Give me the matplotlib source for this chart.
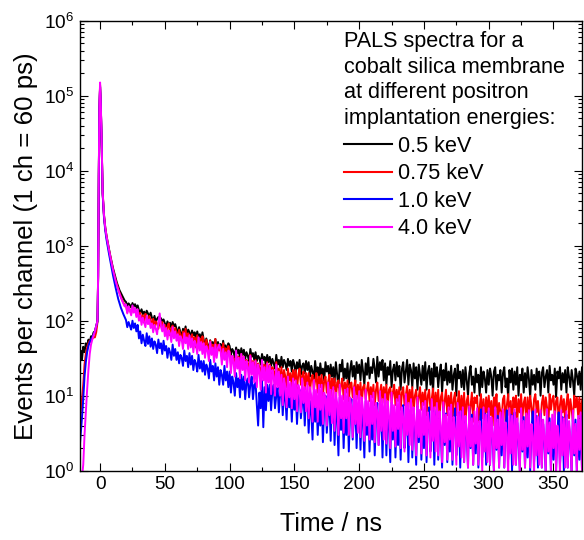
import numpy as np
import matplotlib
matplotlib.use("Agg")
import matplotlib.pyplot as plt
from matplotlib.ticker import MultipleLocator, LogLocator, NullFormatter

plt.rcParams['font.family'] = ['Liberation Sans', 'DejaVu Sans']
plt.rcParams['mathtext.fontset'] = 'custom'
plt.rcParams['mathtext.rm'] = 'Liberation Sans'
plt.rcParams['mathtext.it'] = 'Liberation Sans'

# time axis (ns): fine steps around the prompt peak, then 1 ns from 20 ns on
t_head = [-16, -15, -14, -13, -12, -11, -10, -9, -8, -7, -6, -5, -4, -3, -2, -1.5,
          -1, -0.5, 0, 0.5, 1, 1.5, 2, 3, 4, 5, 6, 7, 8, 9, 10, 11, 12, 13, 14, 15,
          16, 17, 18, 19]
t_tail = np.arange(20, 380)
time = np.concatenate([t_head, t_tail])

labels = ['0.5 keV', '0.75 keV', '1.0 keV', '4.0 keV']
colors = ['#000000', '#ff0000', '#0000ff', '#ff00ff']

# counts per channel
# 0.5 keV
e05_head = [22, 40, 30, 45, 38, 50, 46, 56, 52, 62, 60, 70, 72, 85, 100, 400,
            9000, 70000, 130000, 80000, 35000, 13000, 5000, 2600, 1750, 1350, 1080, 880, 720, 600,
            500, 430, 370, 320, 285, 255, 235, 215, 200, 185]
e05_tail = [178, 158, 170, 162, 150, 172, 156, 166, 148, 160,
            138, 128, 142, 122, 132, 118, 136, 124, 114, 128,
            110, 100, 116, 96, 106, 112, 94, 108, 98, 104,
            92, 82, 98, 86, 94, 80, 96, 84, 90, 78,
            66, 82, 70, 62, 78, 68, 84, 60, 76, 70,
            60, 74, 64, 70, 55, 72, 60, 66, 54, 70,
            56, 44, 58, 48, 40, 55, 46, 52, 42, 57,
            40, 52, 44, 49, 37, 54, 41, 47, 36, 50,
            46, 35, 42, 39, 32, 44, 37, 41, 31, 43,
            35, 41, 31, 38, 34, 29, 42, 33, 37, 30,
            38, 29, 34, 32, 26, 36, 30, 33, 25, 35,
            28, 33, 25, 31, 27, 23, 35, 26, 30, 24,
            33, 24, 30, 27, 22, 31, 25, 29, 21, 30,
            26, 20, 28, 23, 30, 19, 25, 27, 20, 29,
            22, 28, 18, 25, 21, 17, 29, 20, 24, 16,
            27, 19, 23, 16, 28, 21, 25, 17, 26, 18,
            24, 15, 28, 19, 13, 26, 21, 30, 16, 23,
            17, 27, 14, 22, 29, 18, 25, 15, 28, 20,
            26, 16, 30, 21, 14, 27, 19, 32, 17, 24,
            20, 31, 23, 15, 33, 18, 28, 22, 30, 16,
            27, 14, 24, 19, 29, 13, 22, 26, 16, 28,
            18, 25, 12, 23, 28, 15, 21, 30, 14, 26,
            22, 13, 27, 17, 24, 12, 26, 19, 14, 25,
            16, 28, 12, 21, 25, 14, 23, 11, 27, 18,
            24, 13, 20, 26, 11, 22, 16, 27, 14, 21,
            15, 25, 12, 19, 23, 10, 26, 17, 21, 13,
            22, 12, 24, 16, 10, 20, 25, 14, 18, 11,
            23, 15, 19, 10, 24, 13, 21, 17, 11, 22,
            14, 23, 18, 10, 21, 24, 12, 19, 16, 22,
            11, 20, 24, 13, 17, 9.5, 22, 15, 23, 12,
            21, 14, 24, 10, 19, 16, 23, 11, 20, 13,
            24, 17, 9.5, 22, 14, 19, 12, 23, 15, 21,
            10, 20, 24, 13, 18, 22, 11, 25, 16, 19,
            14, 23, 9.5, 21, 17, 24, 12, 20, 15, 22,
            11, 24, 18, 13, 22, 16, 10, 23, 19, 14,
            21, 12, 24, 17, 9.5, 22, 15, 20, 13, 23]

# 0.75 keV
e075_head = [4, 6, 9, 14, 26, 36, 44, 50, 54, 56, 58, 60, 60, 70, 95, 380,
             8500, 70000, 140000, 80000, 35000, 13000, 5000, 2500, 1700, 1300, 1040, 850, 690, 570,
             470, 400, 345, 300, 265, 235, 210, 190, 175, 160]
e075_tail = [160, 130, 152, 138, 124, 155, 132, 146, 120, 140,
             108, 128, 100, 118, 94, 124, 110, 92, 116, 102,
             88, 106, 82, 98, 92, 78, 104, 84, 96, 76,
             88, 68, 84, 92, 64, 78, 86, 62, 80, 70,
             58, 76, 64, 54, 72, 60, 78, 52, 68, 62,
             48, 66, 54, 60, 44, 64, 50, 58, 42, 62,
             52, 40, 56, 46, 37, 54, 44, 48, 38, 57,
             35, 48, 40, 45, 33, 50, 37, 43, 31, 46,
             38, 27, 34, 31, 25, 37, 29, 33, 24, 36,
             26, 33, 23, 30, 27, 22, 35, 24, 29, 22,
             30, 20, 27, 24, 18, 29, 22, 26, 17, 28,
             19, 26, 17, 24, 21, 16, 28, 18, 23, 16,
             24, 14, 22, 18, 13, 23, 16, 20, 13, 22,
             16, 22, 12, 19, 23, 14, 18, 21, 12, 20,
             14, 20, 11, 17, 19, 12, 16, 20, 11, 18,
             13, 19, 10, 16, 18, 11, 15, 19, 10, 17,
             12, 17, 9, 15, 16, 10, 14, 17, 9, 15,
             11, 16, 8.5, 14, 15, 9.5, 13, 16, 9, 14,
             10, 15, 8, 13, 14, 9, 12, 15, 8.5, 13,
             9.5, 14, 7.5, 12, 15, 8.5, 11, 14, 8, 13,
             9, 14, 7, 12, 13, 8, 11, 14, 7.5, 12,
             8.5, 13, 6.5, 11, 13, 7.5, 10, 13.5, 7, 12,
             8, 13, 6, 10, 12, 7, 9.5, 13, 6.5, 11,
             7.5, 12, 5.5, 10, 12, 6.5, 9, 12.5, 6, 11,
             7, 12, 5, 9.5, 11, 6, 8.5, 12, 5.5, 10,
             6.5, 11, 4.5, 9, 11, 5.5, 8, 11.5, 5, 10,
             6, 11, 4, 8.5, 10, 5, 7.5, 11, 4.5, 9.5,
             8, 10, 4.5, 7, 10.5, 5, 9, 4, 9.5, 6,
             10, 5.5, 8.5, 4, 9.5, 7, 10.5, 4.5, 8, 6,
             5, 9, 10, 4.5, 7.5, 10.5, 5.5, 8.5, 4, 9.5,
             7, 10, 4.5, 9, 6, 10.5, 5, 8, 9.5, 4,
             9.5, 5.5, 10, 7, 4.5, 9, 10.5, 6, 8.5, 5,
             4.5, 8, 10, 5.5, 9.5, 7, 4, 10.5, 6.5, 9,
             10, 5, 8.5, 9.5, 4.5, 7.5, 10, 6, 9, 4.5,
             8, 10.5, 5, 9, 6.5, 4.5, 10, 7, 9.5, 5.5,
             9.5, 4.5, 8.5, 10, 6, 9, 5, 10.5, 7, 4.5]

# 1.0 keV
e10_head = [1.8, 3, 5, 9, 18, 28, 38, 46, 52, 56, 60, 66, 72, 84, 98, 380,
            8500, 70000, 135000, 80000, 35000, 12000, 4800, 2400, 1600, 1200, 950, 760, 610, 490,
            400, 330, 275, 230, 195, 170, 150, 135, 122, 112]
e10_tail = [102, 82, 96, 86, 76, 100, 80, 92, 72, 88,
            58, 72, 50, 65, 54, 46, 68, 49, 62, 45,
            58, 42, 53, 48, 37, 56, 43, 50, 36, 54,
            40, 46, 32, 43, 38, 30, 48, 34, 42, 30,
            38, 27, 35, 32, 25, 40, 29, 34, 24, 37,
            26, 34, 22, 30, 27, 21, 35, 23, 29, 21,
            29, 19, 26, 23, 17, 30, 21, 25, 16, 27,
            18, 24, 14, 22, 19, 14, 25, 16, 21, 13,
            21, 11, 18, 15, 10, 20, 13, 17, 9.5, 19,
            12, 18, 9, 15, 17, 9.5, 14, 18, 9, 14,
            15, 7.5, 4, 11, 6.8, 16, 3.8, 13, 6.4, 14,
            8.5, 14, 6.4, 12, 14, 6.8, 10, 13, 6, 11,
            13, 5.5, 12, 9, 4.8, 14, 7, 11, 4.5, 12,
            6.5, 11, 4.2, 9.5, 12, 5, 8, 11, 4, 10,
            10, 3.2, 8.5, 6, 2.6, 11, 4.5, 9, 3, 7.5,
            4, 9.5, 2.4, 7, 10, 3.2, 6, 9, 2.5, 8,
            9, 2.2, 7.5, 5, 1.6, 9.5, 3.5, 8, 2, 6.5,
            3, 8.5, 1.8, 6, 9, 2.6, 5, 8, 2, 7,
            8, 1.9, 6.5, 4.5, 1.5, 8.5, 3, 7, 1.8, 5.5,
            2.6, 7.5, 1.6, 5, 8, 2.2, 4.2, 7, 1.5, 6,
            7.5, 1.6, 6, 4, 1.3, 8, 2.6, 6.5, 1.5, 5,
            2.2, 7, 1.4, 4.8, 7.5, 2, 3.8, 6.5, 1.3, 5.5,
            7, 1.5, 5.5, 3.6, 1.2, 7.2, 2.4, 6, 1.4, 4.6,
            2, 6.8, 1.3, 4.4, 7, 1.8, 3.5, 6.2, 1.2, 5.2,
            6.6, 1.4, 5, 3.2, 1.1, 7, 2.2, 5.8, 1.3, 4.2,
            1.8, 6.5, 1.2, 4, 6.8, 1.6, 3.2, 6, 1.1, 5,
            6.4, 1.3, 4.8, 3, 1.1, 6.8, 2, 5.6, 1.2, 4,
            1.7, 6.2, 1.1, 3.8, 6.6, 1.5, 3, 5.8, 1.2, 4.6,
            6.2, 1.2, 4.6, 2.8, 1.0, 6.6, 1.9, 5.4, 1.1, 3.8,
            1.6, 6, 1.1, 3.6, 6.4, 1.4, 2.8, 5.6, 1.0, 4.4,
            6, 1.2, 4.4, 2.6, 1.0, 6.4, 1.8, 5.2, 1.1, 3.6,
            1.5, 5.8, 1.0, 3.4, 6.2, 1.3, 2.7, 5.4, 1.1, 4.2,
            5.8, 1.1, 4.2, 2.5, 0.9, 6.2, 1.7, 5, 1.0, 3.5,
            1.4, 5.6, 1.0, 3.2, 6, 1.2, 2.6, 5.2, 1.0, 4,
            5.6, 1.1, 4, 2.4, 0.9, 6, 1.6, 4.8, 1.0, 3.4,
            1.4, 5.4, 1.0, 3.1, 5.8, 1.2, 2.5, 5, 0.9, 3.8]

# 4.0 keV
e40_head = [0.5, 0.6, 0.8, 1.2, 3, 6, 12, 22, 36, 48, 56, 64, 72, 85, 100, 420,
            9500, 80000, 150000, 85000, 38000, 14000, 5200, 2600, 1750, 1330, 1060, 860, 700, 575,
            475, 400, 340, 295, 260, 230, 205, 185, 170, 155]
e40_tail = [165, 125, 155, 138, 118, 160, 128, 148, 112, 142,
            100, 118, 88, 110, 95, 82, 116, 90, 104, 80,
            92, 70, 88, 78, 66, 94, 125, 84, 72, 90,
            62, 80, 56, 74, 68, 52, 82, 58, 72, 54,
            66, 46, 62, 56, 42, 68, 50, 60, 42, 64,
            44, 58, 38, 54, 48, 36, 60, 40, 52, 36,
            50, 32, 46, 40, 29, 52, 35, 44, 28, 48,
            32, 44, 48, 40, 26, 42, 30, 38, 24, 40,
            38, 20, 34, 28, 18, 40, 23, 32, 17, 36,
            22, 33, 16, 29, 24, 15, 34, 19, 28, 15,
            29, 13, 26, 21, 12, 30, 16, 24, 11, 27,
            15, 25, 10.5, 22, 18, 10, 26, 13, 21, 10,
            19, 7.5, 17, 13, 7, 18, 9.5, 15, 6.8, 17,
            9, 16, 6.2, 14, 12, 6, 17, 8, 13, 6.2,
            15, 5, 13, 10, 4.5, 16, 7, 12, 4.5, 14,
            6.5, 14, 4.2, 11, 9, 4, 15, 5.5, 12, 4.3,
            13, 3.4, 11, 8, 3, 14, 5, 10, 3.2, 12,
            5, 12.5, 3, 9.5, 7, 2.8, 13, 4.2, 10, 3.2,
            11.5, 2.8, 9.5, 6.5, 2.5, 12, 4, 8.5, 2.6, 10,
            4.2, 11, 2.4, 8, 6, 2.2, 11.5, 3.4, 9, 2.6,
            10.5, 2.3, 8.5, 5.5, 2, 11, 3.4, 7.5, 2.1, 9,
            3.6, 10, 2, 7, 5, 1.8, 10.5, 3, 8, 2.2,
            9, 1.9, 7, 4.6, 1.6, 9.5, 2.8, 6.5, 1.7, 8,
            3, 8.5, 1.6, 6, 4.2, 1.5, 9, 2.5, 7, 1.8,
            8, 1.6, 6.2, 4, 1.3, 8.2, 2.4, 5.6, 1.4, 7,
            2.6, 7.6, 1.4, 5.2, 3.6, 1.2, 8, 2.1, 6.2, 1.5,
            7, 1.3, 5.4, 3.4, 1.1, 7.2, 2.1, 5, 1.2, 6.2,
            2.3, 6.8, 1.2, 4.6, 3.1, 1.0, 7, 1.8, 5.6, 1.3,
            6.8, 1.2, 5.2, 3.2, 1.0, 7, 2, 4.8, 1.1, 6,
            2.2, 6.6, 1.1, 4.4, 3, 0.9, 6.8, 1.7, 5.4, 1.2,
            6.6, 1.2, 5, 3, 1.0, 6.8, 1.9, 4.6, 1.1, 5.8,
            2.1, 6.4, 1.1, 4.2, 2.9, 0.9, 6.6, 1.6, 5.2, 1.2,
            6.4, 1.1, 4.8, 2.9, 1.0, 6.6, 1.8, 4.4, 1.0, 5.6,
            2, 6.2, 1.0, 4, 2.8, 0.9, 6.4, 1.6, 5, 1.1,
            6.2, 1.1, 4.6, 2.8, 0.9, 6.4, 1.7, 4.2, 1.0, 5.4,
            1.9, 6, 1.0, 3.9, 2.7, 0.9, 6.2, 1.5, 4.8, 1.1]

series = [e05_head + e05_tail, e075_head + e075_tail,
          e10_head + e10_tail, e40_head + e40_tail]

fig = plt.figure(figsize=(5.84, 5.40), dpi=100)
ax = fig.add_axes([80 / 584, 69.3 / 540, 502 / 584, 450 / 540])

for y, c, lab in zip(series, colors, labels):
    ax.plot(time, y, color=c, lw=1.4, label=lab)

ax.set_yscale('log')
ax.set_xlim(-15.5, 372)
ax.set_ylim(1, 1e6)
ax.xaxis.set_major_locator(MultipleLocator(50))
ax.xaxis.set_minor_locator(MultipleLocator(25))
ax.yaxis.set_major_locator(LogLocator(base=10, numticks=10))
ax.yaxis.set_minor_locator(LogLocator(base=10, subs=np.arange(2, 10), numticks=10))
ax.yaxis.set_minor_formatter(NullFormatter())

ax.tick_params(which='both', direction='in', top=True, right=True, width=0.8,
               labelsize=13.7)
ax.tick_params(which='major', length=5.5, pad=4)
ax.tick_params(which='minor', length=3)
for s in ax.spines.values():
    s.set_linewidth(1.0)

ax.set_xlabel('Time / ns', fontsize=18)
ax.set_ylabel('Events per channel (1 ch = 60 ps)', fontsize=18.6)
ax.xaxis.set_label_coords(0.5, -0.092)
ax.yaxis.set_label_coords(-0.084, 0.5)

leg = ax.legend(title='PALS spectra for a\ncobalt silica membrane\nat different positron\nimplantation energies:',
                loc='upper left', bbox_to_anchor=(333 / 584, 0.963),
                bbox_transform=fig.transFigure, frameon=False, fontsize=15.6,
                title_fontsize=15.6, alignment='left', borderpad=0,
                handlelength=2.2, handletextpad=0.3, labelspacing=0.3)
leg.get_title().set_linespacing(1.3)
for h in leg.get_lines():
    h.set_linewidth(1.5)

fig.savefig('out.png', dpi=100)
